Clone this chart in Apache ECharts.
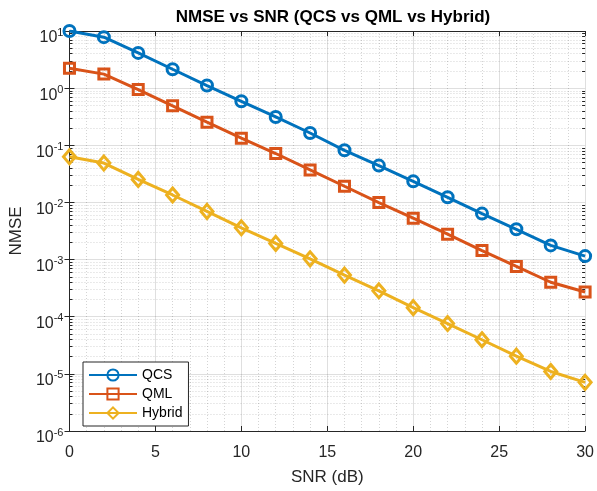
<!DOCTYPE html>
<html>
<head>
<meta charset="utf-8">
<script src="https://cdn.jsdelivr.net/npm/echarts@6/dist/echarts.min.js"></script>
<style>
html, body { margin: 0; padding: 0; background: #fff; }
#main { width: 597px; height: 491px; }
</style>
</head>
<body>
<div id="main"></div>
<script>
var snr = [0, 2, 4, 6, 8, 10, 12, 14, 16, 18, 20, 22, 24, 26, 28, 30];
var qcs = [10, 7.8, 4.14, 2.14, 1.11, 0.589, 0.313, 0.164, 0.0817, 0.0441, 0.0234, 0.0123, 0.00637, 0.00339, 0.00177, 0.00115];
var qml = [2.23, 1.76, 0.946, 0.491, 0.254, 0.133, 0.0718, 0.0371, 0.0192, 0.00995, 0.00529, 0.00278, 0.00144, 0.00076, 0.000401, 0.00027];
var hybrid = [0.0629, 0.0489, 0.0253, 0.0135, 0.00697, 0.0036, 0.00192, 0.00103, 0.000535, 0.000284, 0.000144, 0.000076, 0.0000395, 0.0000204, 0.000011, 0.0000071];
var seriesNames = ['QCS', 'QML', 'Hybrid'];
var colors = ['#0072BD', '#D95319', '#EDB120'];

// minor log ticks 2..9 per decade
var minorVals = [];
for (var e = -6; e < 1; e++) {
	for (var m = 2; m <= 9; m++) {
		minorVals.push(m * Math.pow(10, e));
	}
}

function pairs(ys) {
	return snr.map(function (x, i) { return [x, ys[i]]; });
}

var axisCol = '#262626';
var font = 'Liberation Sans, Arial, sans-serif';

var myChart = echarts.init(document.getElementById('main'));

function logAxis(pos, opts) {
	var a = {
		type: 'log', position: pos, min: 1e-6, max: 10, logBase: 10,
		axisLine: { show: true, lineStyle: { color: axisCol, width: 1 } },
		axisTick: { show: true, inside: true, length: 5, lineStyle: { color: axisCol } },
		axisLabel: { show: false },
		splitLine: { show: false }
	};
	for (var k in opts) a[k] = opts[k];
	return a;
}

var option = {
	animation: false,
	backgroundColor: '#fff',
	title: {
		text: 'NMSE vs SNR (QCS vs QML vs Hybrid)',
		left: 328, top: 4, textAlign: 'center',
		textStyle: { fontFamily: font, fontSize: 17, fontWeight: 'bold', color: '#000' }
	},
	legend: {
		data: seriesNames,
		orient: 'vertical',
		left: 83, top: 362,
		padding: [6, 6, 6, 5],
		itemGap: 5,
		itemWidth: 48, itemHeight: 14,
		backgroundColor: '#fff',
		borderColor: axisCol, borderWidth: 1, borderRadius: 0,
		textStyle: { fontFamily: font, fontSize: 14, color: '#000' }
	},
	grid: { left: 69, right: 9, top: 31, bottom: 52, containLabel: false },
	xAxis: [{
		type: 'value', min: 0, max: 30, interval: 5, position: 'bottom',
		name: 'SNR (dB)', nameLocation: 'middle', nameGap: 38,
		nameTextStyle: { fontFamily: font, fontSize: 17, color: axisCol },
		axisLine: { show: true, lineStyle: { color: axisCol } },
		axisTick: { show: true, inside: true, length: 5, lineStyle: { color: axisCol } },
		axisLabel: { fontFamily: font, fontSize: 16, color: axisCol, margin: 14 },
		splitLine: { show: true, lineStyle: { color: 'rgba(38,38,38,0.15)', width: 1 } },
		minorTick: { show: true, splitNumber: 5, length: 0 },
		minorSplitLine: { show: true, lineStyle: { color: 'rgba(38,38,38,0.2)', type: [1, 2], width: 1 } }
	}, {
		type: 'value', min: 0, max: 30, interval: 5, position: 'top',
		axisLine: { show: true, lineStyle: { color: axisCol } },
		axisTick: { show: true, inside: true, length: 5, lineStyle: { color: axisCol } },
		axisLabel: { show: false },
		splitLine: { show: false }
	}],
	yAxis: [
		logAxis('left', {
			name: 'NMSE', nameLocation: 'middle', nameGap: 43,
			nameTextStyle: { fontFamily: font, fontSize: 17, color: axisCol },
			axisLabel: {
				show: true, margin: 6,
				formatter: function (v) {
					var ex = Math.round(Math.log10(v));
					return '{b|10}{s|' + ex + '}';
				},
				rich: {
					b: { fontFamily: font, fontSize: 16, color: axisCol, padding: [14, 0, 0, 0] },
					s: { fontFamily: font, fontSize: 11, color: axisCol, padding: [3, 0, 0, 0] }
				}
			},
			splitLine: { show: true, lineStyle: { color: 'rgba(38,38,38,0.15)', width: 1 } }
		}),
		logAxis('right', {}),
		logAxis('left', {
			axisLine: { show: false },
			axisTick: { show: true, inside: true, length: 3, customValues: minorVals, lineStyle: { color: axisCol } },
			splitLine: { show: true, lineStyle: { color: 'rgba(38,38,38,0.2)', type: [1, 2], width: 1 } }
		}),
		logAxis('right', {
			axisLine: { show: false },
			axisTick: { show: true, inside: true, length: 3, customValues: minorVals, lineStyle: { color: axisCol } }
		})
	],
	series: [qcs, qml, hybrid].map(function (ys, i) {
		var sym = ['circle', 'rect', 'diamond'][i];
		var size = [11, 10, [12, 14]][i];
		return {
			name: seriesNames[i],
			type: 'line',
			data: pairs(ys),
			symbol: sym,
			symbolSize: size,
			showAllSymbol: true,
			color: colors[i],
			lineStyle: { color: colors[i], width: 3 },
			itemStyle: { color: 'rgba(255,255,255,0)', borderColor: colors[i], borderWidth: 3 },
			z: 3 + i
		};
	})
};
myChart.setOption(option);
</script>
</body>
</html>
